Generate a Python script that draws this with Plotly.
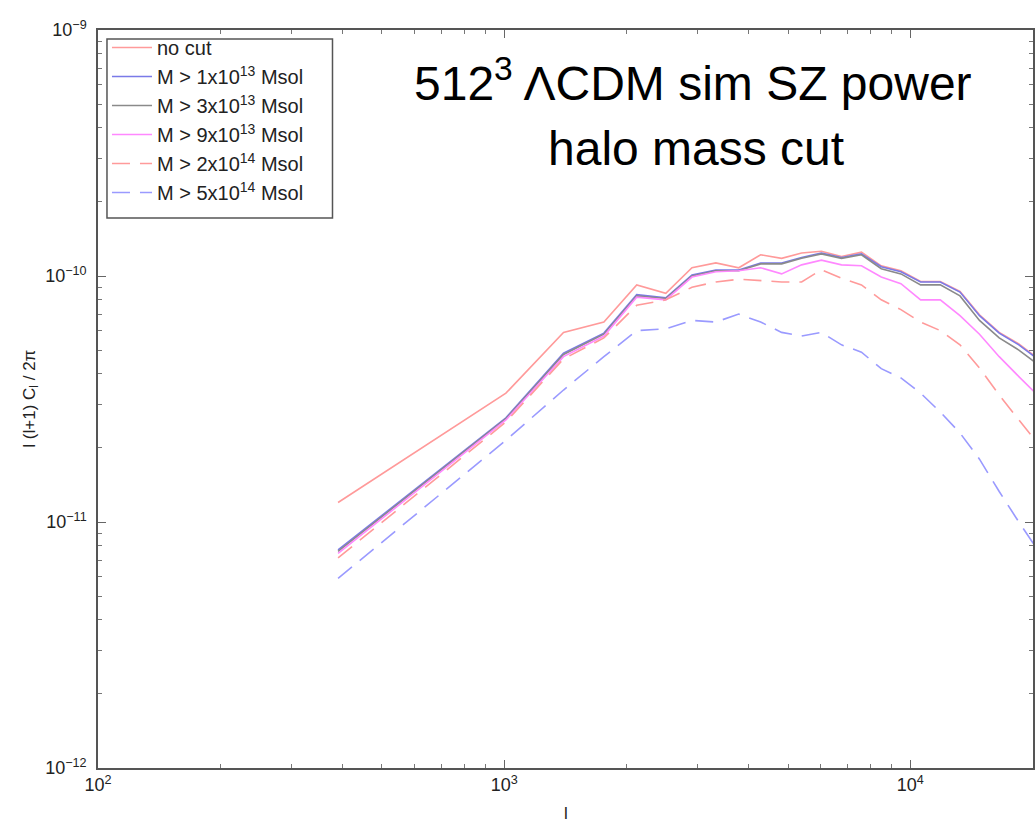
import plotly.graph_objects as go

# Multipole bins
ell = [390, 1010, 1400, 1760, 2120, 2500, 2900, 3320, 3780, 4280, 4820, 5400,
       6040, 6770, 7580, 8480, 9480, 10600, 11850, 13250, 14800, 16550, 18500, 20700]

# l(l+1)C_l/2pi for each halo mass cut
no_cut = [1.2e-11, 3.34e-11, 5.9e-11, 6.5e-11, 9.2e-11, 8.5e-11, 1.08e-10, 1.13e-10,
          1.08e-10, 1.22e-10, 1.18e-10, 1.24e-10, 1.26e-10, 1.2e-10, 1.25e-10, 1.1e-10,
          1.05e-10, 9.5e-11, 9.5e-11, 8.65e-11, 6.95e-11, 5.9e-11, 5.3e-11, 4.6e-11]
cut_1e13 = [7.7e-12, 2.65e-11, 4.86e-11, 5.86e-11, 8.4e-11, 8.15e-11, 1.01e-10, 1.057e-10,
            1.057e-10, 1.13e-10, 1.13e-10, 1.19e-10, 1.24e-10, 1.19e-10, 1.23e-10, 1.09e-10,
            1.04e-10, 9.46e-11, 9.46e-11, 8.6e-11, 6.9e-11, 5.86e-11, 5.25e-11, 4.56e-11]
cut_3e13 = [7.6e-12, 2.63e-11, 4.8e-11, 5.8e-11, 8.3e-11, 8.1e-11, 1.0e-10, 1.05e-10,
            1.05e-10, 1.12e-10, 1.12e-10, 1.18e-10, 1.23e-10, 1.18e-10, 1.22e-10, 1.07e-10,
            1.02e-10, 9.2e-11, 9.2e-11, 8.3e-11, 6.6e-11, 5.6e-11, 5.0e-11, 4.35e-11]
cut_9e13 = [7.45e-12, 2.6e-11, 4.7e-11, 5.7e-11, 8.2e-11, 8.0e-11, 9.9e-11, 1.04e-10,
            1.05e-10, 1.08e-10, 1.02e-10, 1.11e-10, 1.16e-10, 1.11e-10, 1.1e-10, 9.9e-11,
            9.3e-11, 8.0e-11, 8.0e-11, 6.9e-11, 5.8e-11, 4.7e-11, 3.9e-11, 3.25e-11]
cut_2e14 = [7.15e-12, 2.55e-11, 4.6e-11, 5.6e-11, 7.6e-11, 8.0e-11, 9.0e-11, 9.46e-11,
            9.7e-11, 9.6e-11, 9.46e-11, 9.46e-11, 1.06e-10, 9.8e-11, 9.2e-11, 8.0e-11,
            7.3e-11, 6.5e-11, 6.0e-11, 5.25e-11, 4.23e-11, 3.28e-11, 2.6e-11, 2.06e-11]
cut_5e14 = [5.9e-12, 2.15e-11, 3.44e-11, 4.7e-11, 6.0e-11, 6.1e-11, 6.6e-11, 6.5e-11,
            7.0e-11, 6.5e-11, 5.9e-11, 5.7e-11, 5.9e-11, 5.25e-11, 4.9e-11, 4.2e-11,
            3.85e-11, 3.34e-11, 2.8e-11, 2.3e-11, 1.8e-11, 1.33e-11, 1.0e-11, 7.6e-12]

labels = ["no cut",
          "M > 1x10<sup>13</sup> Msol",
          "M > 3x10<sup>13</sup> Msol",
          "M > 9x10<sup>13</sup> Msol",
          "M > 2x10<sup>14</sup> Msol",
          "M > 5x10<sup>14</sup> Msol"]

x_ticks = [100, 1000, 10000]
x_ticktext = ["10<sup>2</sup>", "10<sup>3</sup>", "10<sup>4</sup>"]
y_ticks = [1e-12, 1e-11, 1e-10, 1e-9]
y_ticktext = ["10<sup>\u221212</sup>", "10<sup>\u221211</sup>",
              "10<sup>\u221210</sup>", "10<sup>\u22129</sup>"]

series = [no_cut, cut_1e13, cut_3e13, cut_9e13, cut_2e14, cut_5e14]
colors = ["#ff9a9a", "#7a7ae8", "#8a8a8a", "#ff88ff", "#ff9a9a", "#9a9aff"]
dashes = ["solid", "solid", "solid", "solid", "18px,10px", "18px,10px"]

fig = go.Figure()
for y, name, c, d in zip(series, labels, colors, dashes):
    fig.add_trace(go.Scatter(x=ell, y=y, mode="lines", name=name,
                             line=dict(color=c, width=1.6, dash=d)))

minor_x = [m * 10 ** k for k in (2, 3) for m in range(2, 10)] + [20000]
minor_y = [m * 10.0 ** k for k in (-12, -11, -10) for m in range(2, 10)]

font_family = "Liberation Sans, Arial, sans-serif"
axis_font = dict(family=font_family, size=18, color="#222")

# Plot-area geometry in pixels, used to place the legend frame and texts
PX_L, PX_R, PX_T, PX_B = 98, 1035, 30, 768
def px_x(p):
    return (p - PX_L) / (PX_R - PX_L)
def px_y(p):
    return (PX_B - p) / (PX_B - PX_T)

fig.update_layout(
    width=1036, height=824,
    margin=dict(l=PX_L, r=1036 - PX_R, t=PX_T, b=824 - PX_B),
    paper_bgcolor="white", plot_bgcolor="white",
    showlegend=True,
    legend=dict(x=px_x(107), y=px_y(28), xanchor="left", yanchor="top",
                bgcolor="rgba(0,0,0,0)", borderwidth=0,
                font=dict(family=font_family, size=20, color="#222"),
                itemwidth=40, tracegroupgap=0),
    xaxis=dict(type="log", range=[2, 4.302], tickvals=x_ticks, ticktext=x_ticktext,
               ticks="inside", ticklen=8, tickwidth=1, tickcolor="#666",
               showline=True, linecolor="#555", linewidth=1.5, mirror="ticks",
               showgrid=False, zeroline=False, tickfont=axis_font,
               minor=dict(tickvals=minor_x, ticks="inside", ticklen=4,
                          tickcolor="#777", tickwidth=1, showgrid=False)),
    yaxis=dict(type="log", range=[-12, -9], tickvals=y_ticks, ticktext=y_ticktext,
               ticks="inside", ticklen=8, tickwidth=1, tickcolor="#666",
               showline=True, linecolor="#555", linewidth=1.5, mirror="ticks",
               showgrid=False, zeroline=False, tickfont=axis_font,
               ticklabelstandoff=6,
               minor=dict(tickvals=minor_y, ticks="inside", ticklen=4,
                          tickcolor="#777", tickwidth=1, showgrid=False)),
)

# Legend frame
fig.add_shape(type="rect", xref="paper", yref="paper",
              x0=px_x(107), x1=px_x(333), y0=px_y(218), y1=px_y(39),
              line=dict(color="#555", width=1.5), fillcolor="white", layer="above")

# Axis titles
fig.add_annotation(text="l", xref="paper", yref="paper", x=0.5, y=px_y(813),
                   xanchor="center", yanchor="middle", showarrow=False,
                   font=dict(family=font_family, size=17, color="#222"))
fig.add_annotation(text="l (l+1) C<sub>l</sub> / 2\u03c0", xref="paper", yref="paper",
                   x=-0.072, y=0.5, xanchor="center", yanchor="middle", textangle=-90,
                   showarrow=False,
                   font=dict(family=font_family, size=17, color="#222"))

# Title inside the axes
title_font = dict(family=font_family, size=48, color="black")
fig.add_annotation(text="512<sup>3</sup> \u039bCDM sim SZ power", xref="paper", yref="paper",
                   x=px_x(694), y=px_y(80), xanchor="center", yanchor="middle",
                   showarrow=False, font=title_font)
fig.add_annotation(text="halo mass cut", xref="paper", yref="paper",
                   x=px_x(697), y=px_y(148), xanchor="center", yanchor="middle",
                   showarrow=False, font=title_font)

fig.write_html("out.html")
